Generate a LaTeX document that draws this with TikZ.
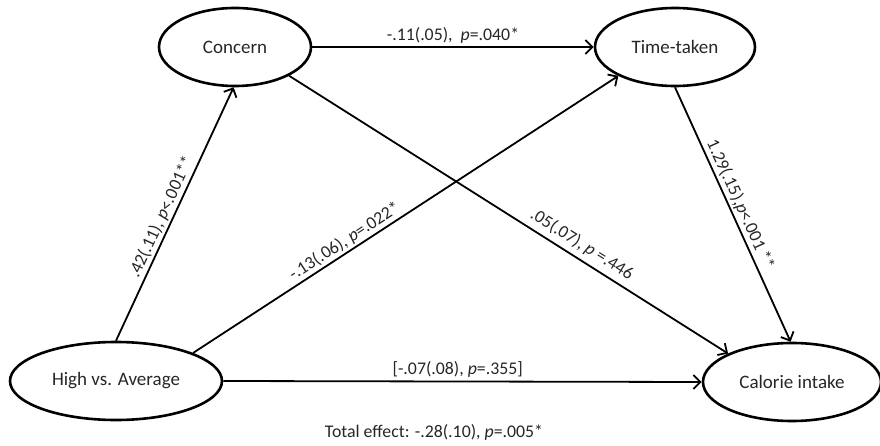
\documentclass[tikz,border=0pt]{standalone}
\usepackage{fontspec}
\setmainfont{Carlito}
\usetikzlibrary{shapes.geometric,arrows.meta}
\begin{document}
\begin{tikzpicture}[x=1pt,y=-1pt,
  var/.style={ellipse,draw,line width=2.6pt,inner sep=0pt,minimum height=78pt,
    font=\fontsize{19}{21}\selectfont,text=black!85},
  arr/.style={line width=1.8pt,-{Straight Barb[length=7pt,width=14pt,line width=1.8pt]}},
  lab/.style={font=\fontsize{17.8}{19}\selectfont,text=black!85,inner sep=2pt}]
\useasboundingbox (0,0) rectangle (880,446);
\node[var,minimum width=152pt] (con) at (235,47) {Concern};
\node[var,minimum width=160pt] (tt) at (675,47) {Time-taken};
\node[var,minimum width=212pt] (hva) at (116,381) {High vs. Average};
\node[var,minimum width=178pt] (cal) at (792,382) {Calorie intake};
\draw[arr] (con.east) -- node[lab,above=1pt] {-.11(.05),\ \ \textit{p}=.040*} (tt.west);
\draw[arr] (hva.north) -- node[lab,sloped,above,pos=0.47] {.42(.11), \textit{p}<.001**} (con.-92);
\draw[arr] (hva.20) -- node[lab,sloped,above,pos=0.37] {-.13(.06), \textit{p}=.022*} (tt.207);
\draw[arr] (con.-28) -- node[lab,sloped,above=3pt,pos=0.65] {.05(.07), \textit{p} =.446} (cal.156);
\draw[arr] (tt.south) -- node[lab,sloped,above,pos=0.48] {1.29(.15),\textit{p}<.001 **} (cal.92);
\draw[arr] (hva.east) -- node[lab,above=1pt,pos=0.49] {[-.07(.08), \textit{p}=.355]} (cal.west);
\node[lab] (tot) at (434,432) {Total effect: -.28(.10), \textit{p}=.005*};
\end{tikzpicture}
\end{document}
